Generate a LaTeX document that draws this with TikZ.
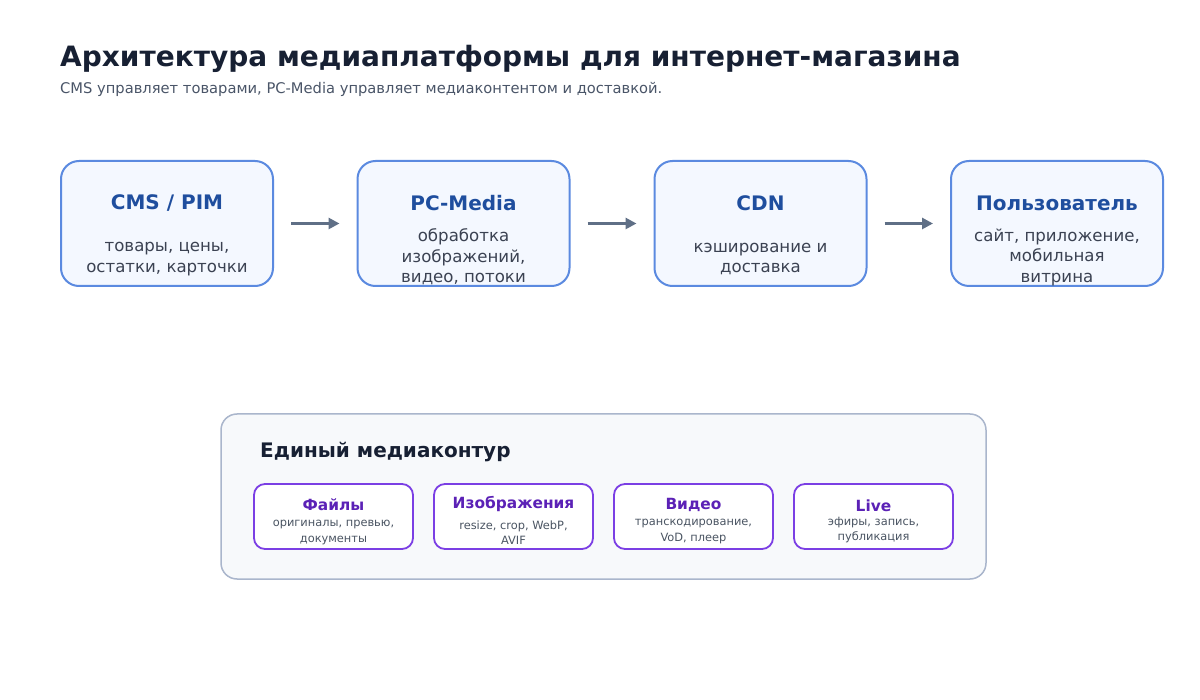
\documentclass[tikz,border=0pt]{standalone}
\usepackage{fontspec}
\setmainfont{DejaVu Sans}
\usetikzlibrary{arrows.meta,positioning}

\definecolor{headcol}{HTML}{172033}
\definecolor{subcol}{HTML}{4A5568}
\definecolor{stageborder}{HTML}{5B8AE0}
\definecolor{stagefill}{HTML}{F4F8FF}
\definecolor{stagehead}{HTML}{1F4E9E}
\definecolor{stagetext}{HTML}{3B4252}
\definecolor{flowcol}{HTML}{5F6F86}
\definecolor{loopborder}{HTML}{AAB6CC}
\definecolor{loopfill}{HTML}{F7F9FB}
\definecolor{mediaborder}{HTML}{7B3FE4}
\definecolor{mediahead}{HTML}{5B21B6}
\definecolor{mediatext}{HTML}{4B5563}

\begin{document}
\begin{tikzpicture}[x=1pt,y=-1pt,
    stage/.style={draw=stageborder, fill=stagefill, line width=2pt, rounded corners=18pt,
        minimum width=212pt, minimum height=125pt},
    stagetitle/.style={text=stagehead, font=\fontsize{20}{24}\selectfont\bfseries, inner sep=0pt},
    stagebody/.style={text=stagetext, font=\fontsize{16.6}{20.5}\selectfont, align=center, inner sep=0pt},
    flow/.style={draw=flowcol, line width=3pt, -{Triangle[length=11pt,width=11pt]},
        shorten <=17pt, shorten >=17pt},
    loopbox/.style={draw=loopborder, fill=loopfill, line width=1.5pt, rounded corners=16pt,
        minimum width=765pt, minimum height=165pt},
    media/.style={draw=mediaborder, fill=white, line width=1.8pt, rounded corners=11pt,
        minimum width=159pt, minimum height=65pt},
    mediatitle/.style={text=mediahead, font=\fontsize{15.4}{18}\selectfont\bfseries, inner sep=0pt},
    mediabody/.style={text=mediatext, font=\fontsize{11.4}{15.5}\selectfont, align=center, inner sep=0pt}
]
\useasboundingbox[fill=white] (0,0) rectangle (1200,700);

% Heading
\node[anchor=base west, inner sep=0pt, text=headcol, font=\fontsize{28}{34}\selectfont\bfseries]
    (title) at (60,67) {Архитектура медиаплатформы для интернет-магазина};
\node[anchor=base west, inner sep=0pt, text=subcol, font=\fontsize{14.7}{18}\selectfont]
    (subtitle) at (60,94) {CMS управляет товарами, PC-Media управляет медиаконтентом и доставкой.};

% Pipeline stages
\node[stage] (cms) at (167,223.5) {};
\node[stage] (pcm) at (463.5,223.5) {};
\node[stage] (cdn) at (760.5,223.5) {};
\node[stage] (user) at (1057,223.5) {};

\node[stagetitle] (cmshead) at (167,203) {CMS / PIM};
\node[stagebody] (cmsbody) at (167,259) {товары, цены,\\остатки, карточки};
\node[stagetitle] (pcmhead) at (463.5,203) {PC-Media};
\node[stagebody] (pcmbody) at (463.5,257) {обработка\\изображений,\\видео, потоки};
\node[stagetitle] (cdnhead) at (760.5,203) {CDN};
\node[stagebody] (cdnbody) at (760.5,259) {кэширование и\\доставка};
\node[stagetitle] (userhead) at (1057,203) {Пользователь};
\node[stagebody] (userbody) at (1057,257) {сайт, приложение,\\мобильная\\витрина};

% Flow arrows
\draw[flow] (cms) -- (pcm);
\draw[flow] (pcm) -- (cdn);
\draw[flow] (cdn) -- (user);

% Media loop
\node[loopbox] (loop) at (603.5,496.5) {};
\node[anchor=west, inner sep=0pt, text=headcol, font=\fontsize{20}{24}\selectfont\bfseries]
    (loophead) at (260,452) {Единый медиаконтур};

\node[media] (files) at (333.5,516.5) {};
\node[media] (images) at (513.5,516.5) {};
\node[media] (video) at (693.5,516.5) {};
\node[media] (live) at (873.5,516.5) {};

\node[mediatitle] (fileshead) at (333.5,505) {Файлы};
\node[mediabody] (filesbody) at (333.5,532.5) {оригиналы, превью,\\документы};
\node[mediatitle] (imageshead) at (513.5,504) {Изображения};
\node[mediabody] (imagesbody) at (513.5,532.5) {resize, crop, WebP,\\AVIF};
\node[mediatitle] (videohead) at (693.5,505) {Видео};
\node[mediabody] (videobody) at (693.5,531.5) {транскодирование,\\VoD, плеер};
\node[mediatitle] (livehead) at (873.5,506) {Live};
\node[mediabody] (livebody) at (873.5,530) {эфиры, запись,\\публикация};

\end{tikzpicture}
\end{document}
